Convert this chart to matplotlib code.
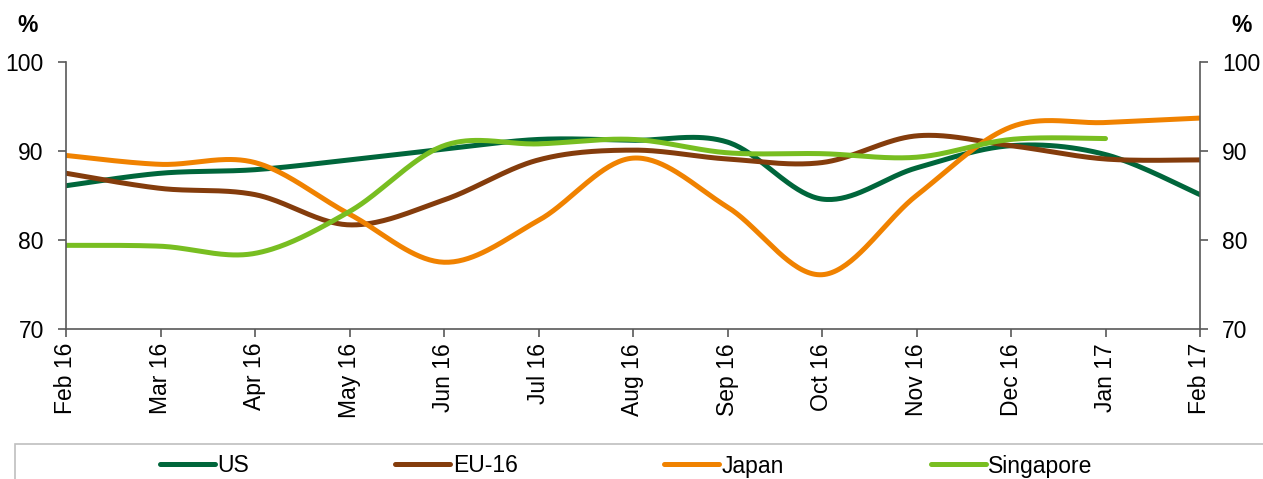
import matplotlib
matplotlib.use("Agg")
import matplotlib.pyplot as plt
import numpy as np
from matplotlib.patches import Rectangle

plt.rcParams['font.family'] = ['Liberation Sans', 'DejaVu Sans']

# data
months = ['Feb 16', 'Mar 16', 'Apr 16', 'May 16', 'Jun 16', 'Jul 16', 'Aug 16',
          'Sep 16', 'Oct 16', 'Nov 16', 'Dec 16', 'Jan 17', 'Feb 17']
us = [86.1, 87.5, 87.9, 89.0, 90.2, 91.3, 91.2, 91.0, 84.6, 88.1, 90.6, 89.6, 85.1]
eu16 = [87.5, 85.8, 85.1, 81.7, 84.5, 89.0, 90.1, 89.1, 88.7, 91.7, 90.6, 89.1, 89.0]
japan = [89.5, 88.5, 88.7, 82.9, 77.5, 82.2, 89.2, 83.7, 76.1, 85.0, 92.7, 93.2, 93.7]
singapore = [79.4, 79.3, 78.5, 83.2, 90.6, 90.8, 91.3, 89.8, 89.7, 89.3, 91.3, 91.4]

series = [('US', us, '#00663B'), ('EU-16', eu16, '#843C0C'),
          ('Japan', japan, '#F08200'), ('Singapore', singapore, '#78BE21')]


def smooth(y, n=40):
    # excel style smoothed line (bezier through the points)
    y = np.asarray(y, dtype=float)
    x = np.arange(len(y), dtype=float)
    px = np.concatenate([[x[0]], x, [x[-1]]])
    py = np.concatenate([[y[0]], y, [y[-1]]])
    t = np.linspace(0, 1, n)[:, None]
    xs, ys = [], []
    for i in range(len(y) - 1):
        p0 = np.array([px[i + 1], py[i + 1]])
        p3 = np.array([px[i + 2], py[i + 2]])
        p1 = p0 + (p3 - np.array([px[i], py[i]])) / 6
        p2 = p3 - (np.array([px[i + 3], py[i + 3]]) - p0) / 6
        b = ((1 - t) ** 3) * p0 + 3 * ((1 - t) ** 2) * t * p1 + 3 * (1 - t) * t ** 2 * p2 + t ** 3 * p3
        xs.append(b[:, 0])
        ys.append(b[:, 1])
    return np.concatenate(xs), np.concatenate(ys)


fig = plt.figure(figsize=(12.63, 4.79), dpi=100)
ax = fig.add_axes([66 / 1263, 1 - 329 / 479, (1200 - 66) / 1263, (329 - 62) / 479])

for name, vals, col in series:
    sx, sy = smooth(vals)
    ax.plot(sx, sy, color=col, linewidth=3.6, solid_capstyle='round', label=name)

ax.set_xlim(0, len(months) - 1)
ax.set_ylim(70, 100)
ax.set_yticks([70, 80, 90, 100])
ax.set_xticks(range(len(months)))
ax.set_xticklabels(months, rotation=90, fontsize=16.5)

spine_col = '#595959'
for s in ['left', 'bottom', 'right']:
    ax.spines[s].set_color(spine_col)
    ax.spines[s].set_linewidth(1.2)
ax.spines['top'].set_visible(False)
ax.tick_params(axis='x', length=6, width=1.2, color=spine_col, pad=4)
ax.tick_params(axis='y', length=6, width=1.2, color=spine_col, labelsize=16.5, pad=10,
               right=True, labelright=True)

fig.text(28 / 1263, 1 - 26 / 479, '%', fontsize=16.5, fontweight='bold', ha='center', va='center')
fig.text(1242 / 1263, 1 - 26 / 479, '%', fontsize=16.5, fontweight='bold', ha='center', va='center')

# legend box at the bottom
fig.patches.append(Rectangle((15 / 1263, -0.1), 1.0, 0.1 + 1 - 444 / 479,
                             transform=fig.transFigure, fill=False,
                             edgecolor='#BFBFBF', linewidth=1.2))
handles, labels = ax.get_legend_handles_labels()
fig.legend(handles, labels, loc='center', bbox_to_anchor=(626 / 1263, 1 - 466 / 479),
           ncol=4, frameon=False, fontsize=16.5, handlelength=2.4,
           handletextpad=0.1, columnspacing=6.4)

fig.savefig('out.png', dpi=100)
